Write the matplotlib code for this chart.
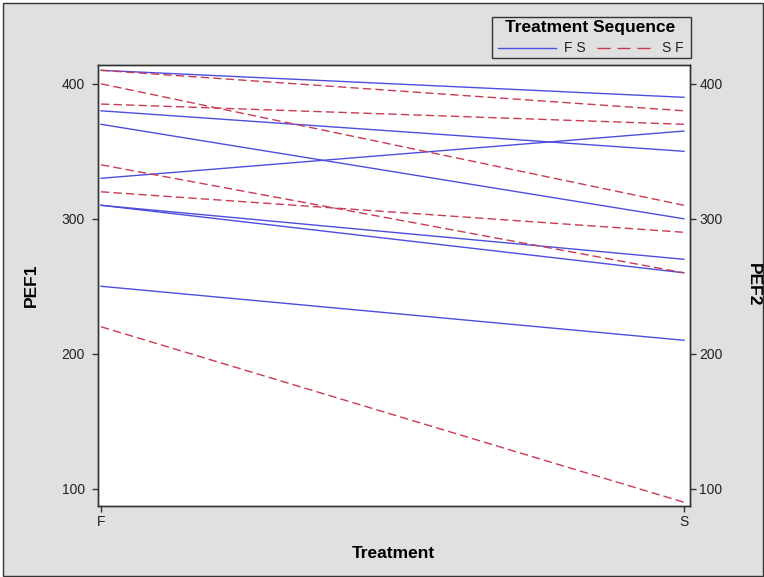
import matplotlib
matplotlib.use("Agg")
import matplotlib.pyplot as plt
from matplotlib.patches import Rectangle
from matplotlib.lines import Line2D

plt.rcParams["font.family"] = ["Liberation Sans", "DejaVu Sans"]

# === Data: PEF under each treatment (F, S) ===
treatments = ["F", "S"]
fs_f = [310, 310, 370, 410, 250, 380, 330]
fs_s = [270, 260, 300, 390, 210, 350, 365]
sf_f = [385, 400, 410, 320, 340, 220]
sf_s = [370, 310, 380, 290, 260, 90]
yticks = [100, 200, 300, 400]
groups = ["F S", "S F"]

W, H = 764, 577
BG = "#e0e0e0"
EDGE = "#333333"
BLUE = "#4d4de0"
RED = "#c83c52"


def px(x, y):
    # pixel (from top-left) -> figure fraction
    return x / W, 1 - y / H


fig = plt.figure(figsize=(W / 100, H / 100), dpi=100, facecolor="white")
fig.patches.append(Rectangle((2.5 / W, 1.5 / H), (W - 4) / W, (H - 4) / H,
                             transform=fig.transFigure, facecolor=BG,
                             edgecolor=EDGE, linewidth=1.0, zorder=-10))

left, top, right, bottom = 97.5, 64.5, 689.5, 505.5
ax = fig.add_axes([left / W, 1 - bottom / H, (right - left) / W, (bottom - top) / H])
ax.set_facecolor("white")

xpos = [0, 1]
for a, b in zip(fs_f, fs_s):
    ax.plot(xpos, [a, b], color=BLUE, lw=1.0)
for a, b in zip(sf_f, sf_s):
    ax.plot(xpos, [a, b], color=RED, lw=1.0, dashes=(6, 3))

ax.set_xlim(-0.006, 1.0096)
ax.set_ylim(87.6, 414.3)
ax.set_xticks(xpos)
ax.set_xticklabels(treatments)
ax.set_yticks(yticks)

ax2 = ax.twinx()
ax2.set_ylim(ax.get_ylim())
ax2.set_yticks(yticks)

for a in (ax, ax2):
    for s in a.spines.values():
        s.set_color(EDGE)
        s.set_linewidth(1.0)
    a.tick_params(direction="out", length=4.5, width=1.0, color=EDGE,
                  labelsize=10, labelcolor="#222222")
ax.tick_params(axis="y", pad=4.5)
ax.tick_params(axis="x", pad=2.5)
ax2.tick_params(axis="y", pad=2.5)

# axis labels
fig.text(*px(31, 285), "PEF1", rotation=90, ha="center", va="center",
         fontsize=12.5, fontweight="bold")
fig.text(*px(753, 285), "PEF2", rotation=-90, ha="center", va="center",
         fontsize=12.5, fontweight="bold")
fig.text(*px(393, 553), "Treatment", ha="center", va="center",
         fontsize=12.5, fontweight="bold")

# legend, drawn by hand to get the SAS layout
lx0, ly0, lx1, ly1 = 491.5, 17, 690.5, 57.5
fig.patches.append(Rectangle(px(lx0, ly1), (lx1 - lx0) / W, (ly1 - ly0) / H,
                             transform=fig.transFigure, facecolor=BG,
                             edgecolor=EDGE, linewidth=1.0))
fig.text(*px(590.5, 27.5), "Treatment Sequence", ha="center", va="center",
         fontsize=12.5, fontweight="bold")
ey = 47.5
for (x0, x1, tx), col, dash, lab in zip([(498, 556, 563.5), (597, 650, 662.5)],
                                        [BLUE, RED], [None, (9.4, 5.0)], groups):
    ln = Line2D([x0 / W, x1 / W], [1 - ey / H] * 2, color=col, lw=1.0,
                transform=fig.transFigure)
    if dash:
        ln.set_dashes(dash)
    fig.lines.append(ln)
    fig.text(*px(tx, ey), lab, ha="left", va="center", fontsize=10,
             color="#222222")

fig.savefig("out.png", dpi=100, facecolor=fig.get_facecolor())
